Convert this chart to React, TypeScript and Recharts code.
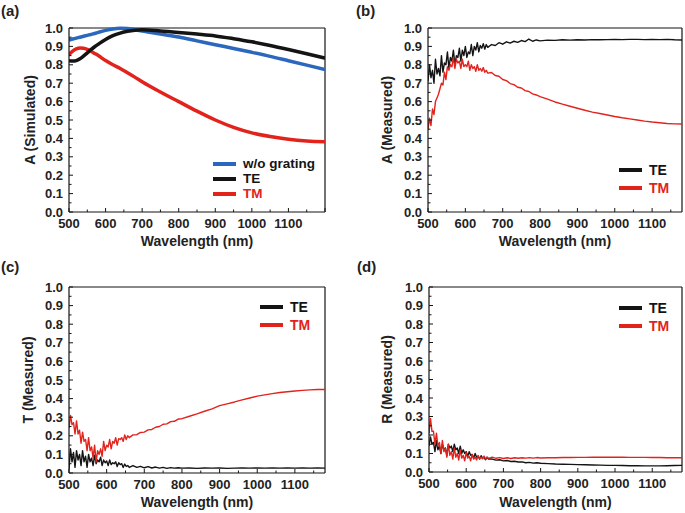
import React from 'react';
import { LineChart, Line, XAxis, YAxis, ReferenceLine } from 'recharts';

const FONT = "Arial, 'Liberation Sans', Helvetica, sans-serif";
const BLUE = '#2b67bd';
const RED = '#e2231c';
const BLACK = '#141414';
const TEXT = '#222';

// tick values (minor ticks at the half steps)
const yTicks = [0, 0.05, 0.1, 0.15, 0.2, 0.25, 0.3, 0.35, 0.4, 0.45, 0.5, 0.55, 0.6, 0.65, 0.7, 0.75, 0.8, 0.85, 0.9, 0.95, 1];
const xTicksSim = [500, 550, 600, 650, 700, 750, 800, 850, 900, 950, 1000, 1050, 1100, 1150, 1200];
const xTicksMeas = [500, 550, 600, 650, 700, 750, 800, 850, 900, 950, 1000, 1050, 1100, 1150];

// (a) simulated absorption
const simWl = [500, 510, 520, 530, 540, 550, 560, 570, 580, 600, 620, 640, 660, 680, 700, 750, 800, 850, 900, 950, 1000, 1050, 1100, 1150, 1200];
const simBlue = [0.935, 0.94, 0.945, 0.95, 0.955, 0.96, 0.965, 0.97, 0.976, 0.987, 0.995, 0.998, 0.997, 0.99, 0.984, 0.967, 0.951, 0.93, 0.909, 0.889, 0.868, 0.846, 0.822, 0.798, 0.774];
const simTE = [0.822, 0.82, 0.823, 0.833, 0.848, 0.865, 0.882, 0.898, 0.912, 0.938, 0.958, 0.972, 0.982, 0.988, 0.99, 0.984, 0.976, 0.967, 0.957, 0.942, 0.925, 0.905, 0.883, 0.86, 0.836];
const simTM = [0.856, 0.874, 0.886, 0.891, 0.89, 0.884, 0.874, 0.862, 0.85, 0.823, 0.8, 0.78, 0.757, 0.733, 0.708, 0.652, 0.6, 0.548, 0.5, 0.46, 0.43, 0.41, 0.395, 0.386, 0.382];

// measured wavelength grid
const measWl = [
  500, 504, 508, 512, 516, 520, 524, 528, 532, 536, 540, 544, 548, 552, 556, 560, 564, 568, 572, 576,
  580, 584, 588, 592, 596, 600, 604, 608, 612, 616, 620, 624, 628, 632, 636, 640, 644, 648, 652, 656, 660,
  670, 680, 690, 700, 710, 720, 730, 740, 750, 760, 770, 780, 790, 800,
  820, 840, 860, 880, 900, 920, 940, 960, 980, 1000, 1020, 1040, 1060, 1080, 1100, 1120, 1140, 1160, 1180,
];

// (b) measured absorption
const absTE = [
  0.71, 0.8, 0.73, 0.77, 0.7, 0.83, 0.75, 0.78, 0.74, 0.85, 0.76, 0.81, 0.8, 0.87, 0.78, 0.84, 0.82, 0.88, 0.8, 0.85,
  0.84, 0.89, 0.82, 0.88, 0.85, 0.9, 0.84, 0.87, 0.86, 0.91, 0.85, 0.9, 0.88, 0.92, 0.87, 0.905, 0.89, 0.915, 0.885, 0.91, 0.895,
  0.91, 0.905, 0.92, 0.912, 0.925, 0.918, 0.928, 0.922, 0.932, 0.926, 0.94, 0.928, 0.935, 0.93,
  0.934, 0.933, 0.936, 0.934, 0.936, 0.935, 0.937, 0.936, 0.937, 0.938, 0.937, 0.938, 0.938, 0.937, 0.938, 0.937, 0.938, 0.936, 0.935,
];
const absTM = [
  0.45, 0.51, 0.47, 0.56, 0.53, 0.6, 0.62, 0.64, 0.67, 0.7, 0.69, 0.76, 0.72, 0.79, 0.77, 0.8, 0.79, 0.84, 0.78, 0.83,
  0.81, 0.82, 0.78, 0.83, 0.79, 0.8, 0.79, 0.82, 0.77, 0.8, 0.78, 0.79, 0.765, 0.8, 0.77, 0.78, 0.765, 0.785, 0.76, 0.77, 0.755,
  0.758, 0.742, 0.738, 0.72, 0.714, 0.698, 0.692, 0.678, 0.674, 0.66, 0.655, 0.642, 0.636, 0.627,
  0.613, 0.598, 0.586, 0.575, 0.564, 0.553, 0.543, 0.535, 0.527, 0.519, 0.512, 0.506, 0.5, 0.494, 0.489, 0.485, 0.481, 0.479, 0.478,
];

// (c) measured transmission
const transTE = [
  0.02, 0.13, 0.06, 0.11, 0.03, 0.12, 0.07, 0.1, 0.04, 0.12, 0.06, 0.09, 0.03, 0.1, 0.06, 0.08, 0.04, 0.095, 0.05, 0.07,
  0.06, 0.085, 0.04, 0.07, 0.055, 0.065, 0.04, 0.07, 0.045, 0.055, 0.05, 0.06, 0.035, 0.055, 0.045, 0.05, 0.03, 0.048, 0.035, 0.04, 0.03,
  0.04, 0.03, 0.036, 0.028, 0.034, 0.027, 0.032, 0.026, 0.03, 0.025, 0.029, 0.026, 0.028, 0.026,
  0.027, 0.025, 0.027, 0.026, 0.027, 0.025, 0.026, 0.027, 0.026, 0.027, 0.026, 0.027, 0.026, 0.027, 0.026, 0.027, 0.026, 0.027, 0.026,
];
const transTM = [
  0.24, 0.31, 0.26, 0.27, 0.21, 0.28, 0.21, 0.23, 0.16, 0.22, 0.17, 0.18, 0.12, 0.19, 0.12, 0.14, 0.08, 0.15, 0.06, 0.12,
  0.1, 0.13, 0.09, 0.17, 0.12, 0.15, 0.14, 0.18, 0.13, 0.17, 0.16, 0.19, 0.15, 0.185, 0.18, 0.19, 0.17, 0.205, 0.18, 0.2, 0.19,
  0.205, 0.206, 0.218, 0.22, 0.232, 0.234, 0.246, 0.25, 0.262, 0.264, 0.276, 0.278, 0.29, 0.292,
  0.305, 0.318, 0.332, 0.345, 0.362, 0.372, 0.382, 0.393, 0.403, 0.413, 0.42, 0.427, 0.433, 0.437, 0.441, 0.444, 0.447, 0.449, 0.449,
];

// (d) measured reflection
const reflTE = [
  0.14, 0.19, 0.15, 0.16, 0.11, 0.17, 0.12, 0.14, 0.1, 0.15, 0.12, 0.13, 0.09, 0.15, 0.13, 0.14, 0.11, 0.15, 0.12, 0.13,
  0.1, 0.14, 0.1, 0.12, 0.1, 0.11, 0.085, 0.11, 0.09, 0.095, 0.075, 0.1, 0.08, 0.085, 0.07, 0.088, 0.075, 0.078, 0.066, 0.08, 0.07,
  0.07, 0.064, 0.066, 0.06, 0.062, 0.057, 0.058, 0.054, 0.055, 0.05, 0.052, 0.048, 0.05, 0.047,
  0.045, 0.043, 0.042, 0.041, 0.04, 0.039, 0.038, 0.037, 0.036, 0.036, 0.035, 0.034, 0.034, 0.033, 0.033, 0.033, 0.034, 0.035, 0.036,
];
const reflTM = [
  0.21, 0.29, 0.22, 0.22, 0.15, 0.21, 0.14, 0.16, 0.1, 0.17, 0.11, 0.13, 0.08, 0.15, 0.09, 0.11, 0.07, 0.13, 0.08, 0.1,
  0.065, 0.12, 0.075, 0.09, 0.06, 0.105, 0.075, 0.085, 0.06, 0.095, 0.07, 0.08, 0.065, 0.09, 0.07, 0.08, 0.072, 0.086, 0.07, 0.08, 0.074,
  0.08, 0.074, 0.078, 0.073, 0.077, 0.073, 0.077, 0.074, 0.077, 0.075, 0.078, 0.075, 0.078, 0.076,
  0.077, 0.077, 0.078, 0.078, 0.079, 0.079, 0.08, 0.08, 0.08, 0.08, 0.08, 0.079, 0.079, 0.079, 0.078, 0.078, 0.077, 0.077, 0.077,
];

const simData = simWl.map((w, i) => ({ wl: w, blue: simBlue[i], te: simTE[i], tm: simTM[i] }));
const absData = measWl.map((w, i) => ({ wl: w, te: absTE[i], tm: absTM[i] }));
const transData = measWl.map((w, i) => ({ wl: w, te: transTE[i], tm: transTM[i] }));
const reflData = measWl.map((w, i) => ({ wl: w, te: reflTE[i], tm: reflTM[i] }));

const makeXTick = (labelMax: number) => (props: any) => {
  const { x, y, payload } = props;
  const v = payload.value as number;
  const major = v % 100 === 0;
  return (
    <g>
      <line x1={x} x2={x} y1={y} y2={y - (major ? 4 : 2.5)} stroke={BLACK} strokeWidth={1} />
      {major && v <= labelMax && (
        <text x={x} y={y + 15.5} textAnchor="middle" fontSize={13} fontWeight="bold" fontFamily={FONT} fill={TEXT}>
          {v}
        </text>
      )}
    </g>
  );
};

const YTick = (props: any) => {
  const { x, y, payload } = props;
  const v = payload.value as number;
  const major = Math.round(v * 100) % 10 === 0;
  return (
    <g>
      <line x1={x} x2={x + (major ? 4 : 2.5)} y1={y} y2={y} stroke={BLACK} strokeWidth={1} />
      {major && (
        <text x={x - 6} y={y} dy="0.36em" textAnchor="end" fontSize={13} fontWeight="bold" fontFamily={FONT} fill={TEXT}>
          {v.toFixed(1)}
        </text>
      )}
    </g>
  );
};

const titleStyle = { textAnchor: 'middle', fontSize: 14, fontWeight: 'bold', fontFamily: FONT, fill: TEXT } as any;

interface SeriesDef {
  key: string;
  color: string;
  width: number;
  smooth?: boolean;
}

interface PanelProps {
  left: number;
  top: number;
  width: number;
  height: number;
  margin: { top: number; right: number; left: number; bottom: number };
  yWidth: number;
  xHeight: number;
  yTitle: string;
  yTitleX: number;
  xTitleOffset: number;
  xMax: number;
  xTicks: number[];
  labelMax: number;
  data: any[];
  series: SeriesDef[];
}

const Panel: React.FC<PanelProps> = (p) => (
  <div style={{ position: 'absolute', left: p.left, top: p.top }}>
    <LineChart width={p.width} height={p.height} data={p.data} margin={p.margin}>
      <XAxis
        dataKey="wl"
        type="number"
        domain={[500, p.xMax]}
        ticks={p.xTicks}
        interval={0}
        allowDataOverflow
        height={p.xHeight}
        tickSize={0}
        tickMargin={0}
        tickLine={false}
        axisLine={{ stroke: BLACK, strokeWidth: 1.2 }}
        tick={makeXTick(p.labelMax)}
        label={{ value: 'Wavelength (nm)', position: 'insideBottom', offset: p.xTitleOffset, style: titleStyle }}
      />
      <YAxis
        type="number"
        domain={[0, 1]}
        ticks={yTicks}
        interval={0}
        width={p.yWidth}
        tickSize={0}
        tickMargin={0}
        tickLine={false}
        axisLine={{ stroke: BLACK, strokeWidth: 1.2 }}
        tick={YTick}
        label={{ value: p.yTitle, angle: -90, position: 'insideLeft', offset: p.yTitleX, style: titleStyle }}
      />
      <ReferenceLine y={1} stroke={BLACK} strokeWidth={1.2} />
      <ReferenceLine x={p.xMax} stroke={BLACK} strokeWidth={1.2} />
      {p.series.map((s) => (
        <Line
          key={s.key}
          dataKey={s.key}
          type={s.smooth ? 'monotone' : 'linear'}
          stroke={s.color}
          strokeWidth={s.width}
          strokeLinejoin="round"
          dot={false}
          activeDot={false}
          isAnimationActive={false}
        />
      ))}
    </LineChart>
  </div>
);

interface LegendItem {
  label: string;
  color: string;
  textColor: string;
}

const LegendBox: React.FC<{ left: number; top: number; gap: number; size: number; items: LegendItem[] }> = ({
  left,
  top,
  gap,
  size,
  items,
}) => (
  <div style={{ position: 'absolute', left, top, fontFamily: FONT, fontWeight: 'bold', fontSize: size }}>
    {items.map((it, i) => (
      <div
        key={it.label}
        style={{ position: 'absolute', left: 0, top: i * gap, height: 14, display: 'flex', alignItems: 'center', whiteSpace: 'nowrap' }}
      >
        <span style={{ display: 'inline-block', width: 23, height: 4, background: it.color, marginRight: 7 }} />
        <span style={{ color: it.textColor, lineHeight: '14px' }}>{it.label}</span>
      </div>
    ))}
  </div>
);

const panelTag = (text: string, left: number, top: number) => (
  <div style={{ position: 'absolute', left, top, fontFamily: FONT, fontWeight: 'bold', fontSize: 15, color: TEXT, lineHeight: '16px' }}>
    {text}
  </div>
);

const teTm: LegendItem[] = [
  { label: 'TE', color: BLACK, textColor: BLACK },
  { label: 'TM', color: RED, textColor: RED },
];

export default function App() {
  return (
    <div style={{ position: 'absolute', left: 0, top: 0, width: 685, height: 513, background: '#fff', overflow: 'hidden' }}>
      <Panel
        left={0}
        top={0}
        width={340}
        height={256}
        margin={{ top: 28, right: 15, left: 0, bottom: 0 }}
        yWidth={69}
        xHeight={44}
        yTitle="A (Simulated)"
        yTitleX={30}
        xTitleOffset={10}
        xMax={1200}
        xTicks={xTicksSim}
        labelMax={1100}
        data={simData}
        series={[
          { key: 'blue', color: BLUE, width: 3.5, smooth: true },
          { key: 'tm', color: RED, width: 3.5, smooth: true },
          { key: 'te', color: BLACK, width: 3.5, smooth: true },
        ]}
      />
      <Panel
        left={340}
        top={0}
        width={345}
        height={256}
        margin={{ top: 28, right: 3, left: 0, bottom: 0 }}
        yWidth={88}
        xHeight={44}
        yTitle="A (Measured)"
        yTitleX={47}
        xTitleOffset={10}
        xMax={1180}
        xTicks={xTicksMeas}
        labelMax={1100}
        data={absData}
        series={[
          { key: 'te', color: BLACK, width: 1.4 },
          { key: 'tm', color: RED, width: 1.4 },
        ]}
      />
      <Panel
        left={0}
        top={256}
        width={340}
        height={257}
        margin={{ top: 31, right: 15, left: 0, bottom: 0 }}
        yWidth={69}
        xHeight={40}
        yTitle="T (Measured)"
        yTitleX={28}
        xTitleOffset={6}
        xMax={1180}
        xTicks={xTicksMeas}
        labelMax={1100}
        data={transData}
        series={[
          { key: 'te', color: BLACK, width: 1.4 },
          { key: 'tm', color: RED, width: 1.4 },
        ]}
      />
      <Panel
        left={340}
        top={256}
        width={345}
        height={257}
        margin={{ top: 31, right: 3, left: 0, bottom: 0 }}
        yWidth={89}
        xHeight={41}
        yTitle="R (Measured)"
        yTitleX={47}
        xTitleOffset={6}
        xMax={1180}
        xTicks={xTicksMeas}
        labelMax={1100}
        data={reflData}
        series={[
          { key: 'te', color: BLACK, width: 1.4 },
          { key: 'tm', color: RED, width: 1.4 },
        ]}
      />
      {panelTag('(a)', 1, 3)}
      {panelTag('(b)', 356, 3)}
      {panelTag('(c)', 1, 259)}
      {panelTag('(d)', 357, 259)}
      <LegendBox
        left={213}
        top={157}
        gap={15}
        size={13.5}
        items={[
          { label: 'w/o grating', color: BLUE, textColor: BLACK },
          { label: 'TE', color: BLACK, textColor: BLACK },
          { label: 'TM', color: RED, textColor: RED },
        ]}
      />
      <LegendBox left={619} top={163} gap={18} size={14} items={teTm} />
      <LegendBox left={260} top={300} gap={18} size={14} items={teTm} />
      <LegendBox left={619} top={301} gap={18} size={14} items={teTm} />
    </div>
  );
}
